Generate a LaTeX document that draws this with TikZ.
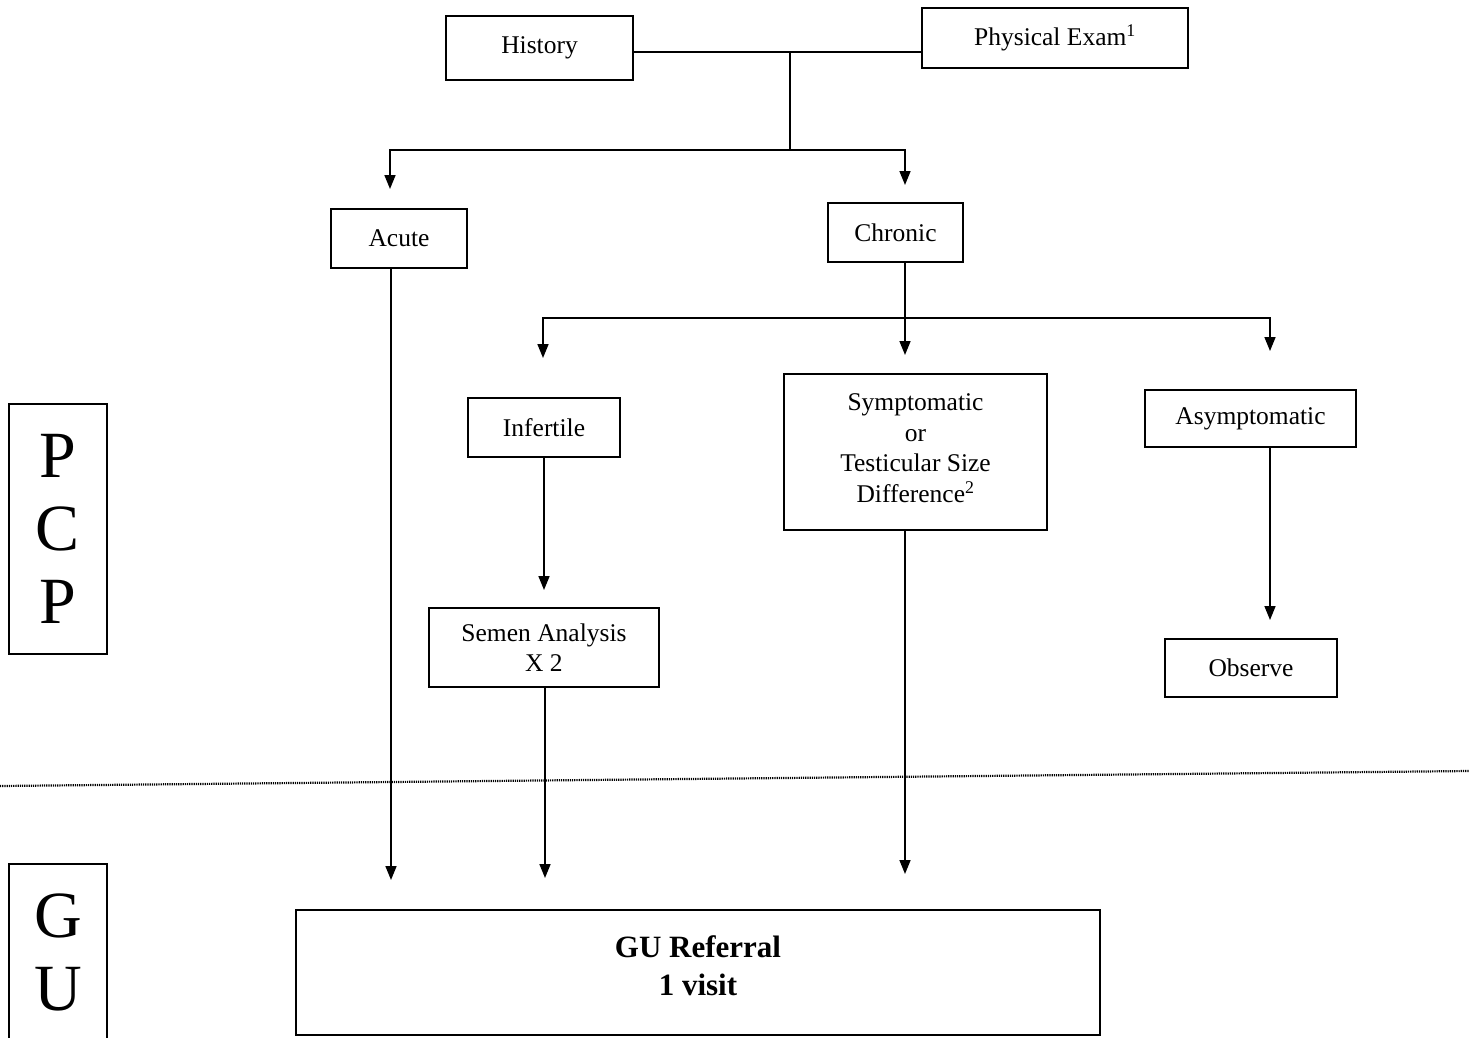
\documentclass[tikz,border=0pt]{standalone}
\usepackage{fontspec}
\setmainfont{Liberation Serif}
\usetikzlibrary{arrows.meta}
\begin{document}
\begin{tikzpicture}[x=1pt,y=-1pt,
  box/.style={draw, line width=1.6pt, inner sep=0pt, align=center,
              font=\fontsize{25.5}{30.5}\selectfont},
  link/.style={line width=1.6pt},
  arr/.style={line width=1.6pt, -{Triangle[length=14pt,width=11pt]}},
  lane/.style={draw, line width=1.6pt, inner sep=0pt, align=center, minimum width=98pt},
  lanetext/.style={inner sep=0pt, align=center, font=\fontsize{66}{73}\selectfont},
  divider/.style={line width=2.2pt, dash pattern=on 1.2pt off 1pt}]
\useasboundingbox (0,0) rectangle (1469,1037);

% lane labels
\node[lane, minimum height=250pt, lanetext] (pcp) at (58,529) {P\\C\\P};
\node[lane, minimum height=260pt] (gubox) at (58,994) {};
\node[lanetext] (gutext) at (58,952) {G\\U};

% boundary between primary care and urology
\coordinate (dl) at (0,786);
\coordinate (dr) at (1469,771);
\draw[divider] (dl) -- (dr);

% boxes
\node[box, minimum width=187pt, minimum height=64pt] (hist) at (539.5,48) {History};
\node[box, minimum width=266pt, minimum height=60pt] (pe) at (1055,38) {Physical Exam\textsuperscript{1}};
\node[box, minimum width=136pt, minimum height=59pt] (acute) at (399,238.5) {Acute};
\node[box, minimum width=135pt, minimum height=59pt] (chronic) at (895.5,232.5) {Chronic};
\node[box, minimum width=152pt, minimum height=59pt] (infert) at (544,427.5) {Infertile};
\node[box, minimum width=263pt, minimum height=156pt, text depth=8pt] (symp) at (915.5,452)
  {Symptomatic\\or\\Testicular Size\\Difference\textsuperscript{2}};
\node[box, minimum width=211pt, minimum height=57pt] (asym) at (1250.5,418.5) {Asymptomatic};
\node[box, minimum width=230pt, minimum height=79pt] (semen) at (544,647.5) {Semen Analysis\\X 2};
\node[box, minimum width=172pt, minimum height=58pt] (observe) at (1251,668) {Observe};
\node[box, minimum width=804pt, minimum height=125pt, text depth=14pt,
      font=\fontsize{31}{38.5}\selectfont\bfseries]
  (gu) at (698,972.5) {GU Referral\\1 visit};

% junctions and arrow ends
\coordinate (j1) at (790,52);
\coordinate (j2) at (790,150);
\coordinate (tAc) at (390,189);
\coordinate (tCh) at (905,185);
\coordinate (j3) at (905,318);
\coordinate (tIn) at (543,358);
\coordinate (tSy) at (905,355);
\coordinate (tAs) at (1270,351);
\coordinate (tSe) at (544,590);
\coordinate (tOb) at (1270,620);
\coordinate (gA) at (391,880);
\coordinate (gS) at (545,878);
\coordinate (gY) at (905,874);

% top of the tree
\draw[link] (hist.east |- j1) -- (pe.west |- j1);
\draw[link] (j1) -- (j2);
\draw[arr] (j2) -| (tAc);
\draw[arr] (j2) -| (tCh);

% chronic branches
\draw[link] (chronic.south -| j3) -- (j3);
\draw[arr] (j3) -- (tSy);
\draw[arr] (j3) -| (tIn);
\draw[arr] (j3) -| (tAs);

% second level
\draw[arr] (infert.south -| tSe) -- (tSe);
\draw[arr] (asym.south -| tOb) -- (tOb);

% referrals
\draw[arr] (acute.south -| gA) -- (gA);
\draw[arr] (semen.south -| gS) -- (gS);
\draw[arr] (symp.south -| gY) -- (gY);
\end{tikzpicture}
\end{document}
